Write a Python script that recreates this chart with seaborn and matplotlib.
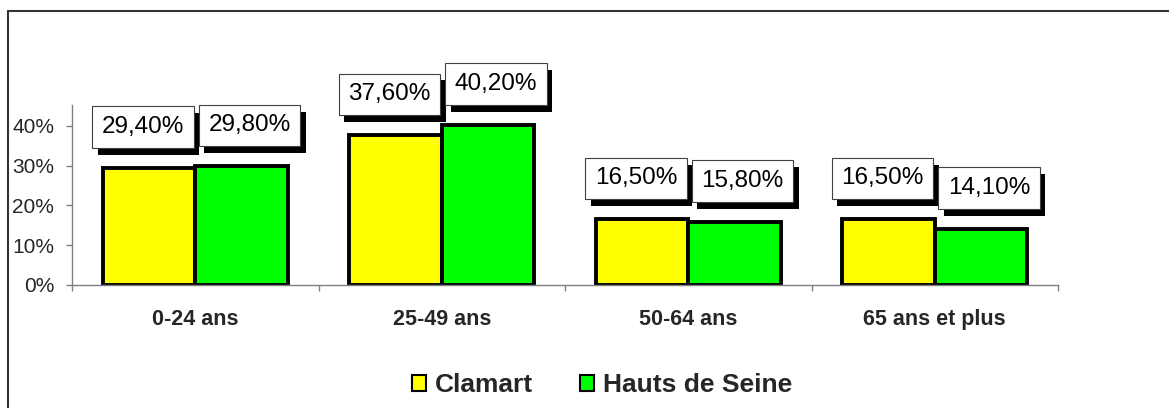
import matplotlib
matplotlib.use("Agg")
import matplotlib.pyplot as plt
import matplotlib.patheffects as pe
from matplotlib.lines import Line2D
import pandas as pd
import seaborn as sns

# Données
tranches = ["0-24 ans", "25-49 ans", "50-64 ans", "65 ans et plus"]
clamart = [0.294, 0.376, 0.165, 0.165]
hauts_de_seine = [0.298, 0.402, 0.158, 0.141]
series = ["Clamart", "Hauts de Seine"]
couleurs = ["#FFFF00", "#00FF00"]
yticks = [0.0, 0.1, 0.2, 0.3, 0.4]
ytick_labels = ["0%", "10%", "20%", "30%", "40%"]

df = pd.DataFrame({
    "tranche": tranches * 2,
    "valeur": clamart + hauts_de_seine,
    "zone": [series[0]] * len(tranches) + [series[1]] * len(tranches),
})

sns.set_style("white")
plt.rcParams["font.family"] = ["Liberation Sans", "DejaVu Sans"]

W, H = 1169, 408
fig = plt.figure(figsize=(W / 100, H / 100), dpi=100)
ax = fig.add_axes([72 / W, (H - 285) / H, 986 / W, 180 / H])

sns.barplot(data=df, x="tranche", y="valeur", hue="zone", order=tranches,
            hue_order=series, palette=couleurs, width=0.75, edgecolor="black",
            linewidth=2.8, saturation=1, ax=ax)

ax.set_xlim(-0.5, len(tranches) - 0.5)
ax.set_ylim(0, 0.452)
ax.set_xlabel("")
ax.set_ylabel("")

# Axes
for s in ["top", "right"]:
    ax.spines[s].set_visible(False)
for s in ["left", "bottom"]:
    ax.spines[s].set_color("#808080")
    ax.spines[s].set_linewidth(1.0)
ax.set_yticks(yticks)
ax.set_yticklabels(ytick_labels, fontsize=15)
ax.tick_params(axis="y", direction="out", length=4.3, width=1, color="#808080",
               pad=8.5, left=True)
ax.set_xticks(range(len(tranches)))
ax.set_xticklabels(tranches, fontsize=15.5, fontweight="bold")
ax.set_xticks([i - 0.5 for i in range(len(tranches) + 1)], minor=True)
ax.tick_params(axis="x", which="major", length=0, pad=17)
ax.tick_params(axis="x", which="minor", direction="out", length=4, width=1,
               color="#808080", bottom=True)

# Étiquettes de valeurs (boîtes blanches avec ombre)
decalages = [-6, 8]
for k, cont in enumerate(ax.containers):
    for bar in cont:
        h = bar.get_height()
        xc = bar.get_x() + bar.get_width() / 2
        lbl = f"{h * 100:.2f}%".replace(".", ",")
        t = ax.annotate(lbl, (xc, h), xytext=(decalages[k], 30),
                        textcoords="offset pixels", ha="center", va="bottom",
                        fontsize=17.5, color="black", annotation_clip=False,
                        bbox=dict(boxstyle="square,pad=0.4", fc="white",
                                  ec="#404040", lw=0.8))
        t.get_bbox_patch().set_path_effects([
            pe.withSimplePatchShadow(offset=(4, -5), shadow_rgbFace="black",
                                     alpha=1.0)])

# Légende
handles, labels = ax.get_legend_handles_labels()
if ax.get_legend() is not None:
    ax.get_legend().remove()
for hdl in handles:
    hdl.set_linewidth(1.5)
fig.legend(handles, labels, loc="center", bbox_to_anchor=(0.515, (H - 385) / H),
           ncol=2, frameon=False, handlelength=0.55, handleheight=0.55,
           handletextpad=0.35, columnspacing=1.75,
           prop={"size": 19, "weight": "bold"})

# Cadre (haut et gauche)
fig.add_artist(Line2D([8 / W, 8 / W], [0, (H - 11) / H], color="#333333", lw=1.5))
fig.add_artist(Line2D([8 / W, 1], [(H - 11) / H, (H - 11) / H], color="#333333", lw=1.5))

fig.savefig("out.png", dpi=100)
